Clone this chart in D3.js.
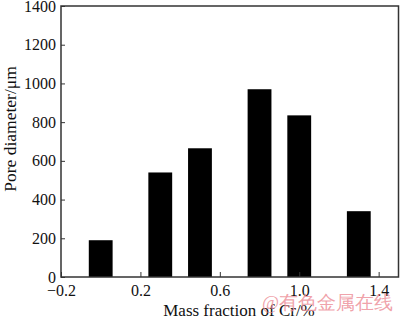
<!DOCTYPE html>
<html>
<head>
<meta charset="utf-8">
<script src="https://cdn.jsdelivr.net/npm/d3@7"></script>
<style>
  body { margin: 0; background: #fff; }
  svg { display: block; }
  text { font-family: "Liberation Serif", "Times New Roman", serif; }
</style>
</head>
<body>
<div id="chart"></div>
<script>
(function () {
    // Cr content (mass fraction, %) and measured pore diameter (um)
    var crFraction = [0, 0.3, 0.5, 0.8, 1.0, 1.3];
    var poreDiameter = [190, 540, 665, 970, 835, 340];
    var xTicks = [-0.2, 0.2, 0.6, 1.0, 1.4];
    var yTicks = [0, 200, 400, 600, 800, 1000, 1200, 1400];

    var width = 400, height = 319;
    var margin = {top: 6, right: 1.5, bottom: 42, left: 61};
    var barWidth = 0.12;

    var x = d3.scaleLinear().domain([-0.2, 1.5]).range([margin.left, width - margin.right]);
    var y = d3.scaleLinear().domain([0, 1400]).range([height - margin.bottom, margin.top]);

    var svg = d3.select('#chart')
        .append('svg')
        .attr('width', width)
        .attr('height', height);

    var data = crFraction.map((c, i) => ({x: c, v: poreDiameter[i]}));

    svg.selectAll('rect.bar')
        .data(data)
        .join('rect')
        .attr('class', 'bar')
        .attr('x', d => x(d.x - barWidth / 2))
        .attr('width', d => x(d.x + barWidth / 2) - x(d.x - barWidth / 2))
        .attr('y', d => y(d.v))
        .attr('height', d => y(0) - y(d.v))
        .attr('fill', '#000');

    // bottom axis, ticks pointing in
    var xAxis = svg.append('g')
        .attr('transform', `translate(0,${y(0)})`)
        .call(d3.axisBottom(x).tickValues(xTicks).tickSizeInner(-5).tickSizeOuter(0)
            .tickPadding(8).tickFormat(d => d3.format('.1f')(d).replace('-', '\u2212')));

    var yAxis = svg.append('g')
        .attr('transform', `translate(${x(-0.2)},0)`)
        .call(d3.axisLeft(y).tickValues(yTicks).tickSizeInner(-4).tickSizeOuter(0)
            .tickPadding(5).tickFormat(d3.format('d')));

    [xAxis, yAxis].forEach(function (g) {
        g.select('.domain').remove();
        g.selectAll('line').attr('stroke', '#333').attr('stroke-width', 1);
        g.selectAll('text')
            .attr('font-family', '"Liberation Serif", serif')
            .attr('font-size', 16)
            .attr('fill', '#111');
    });

    // frame
    svg.append('rect')
        .attr('x', x(-0.2))
        .attr('y', y(1400))
        .attr('width', x(1.5) - x(-0.2))
        .attr('height', y(0) - y(1400))
        .attr('fill', 'none')
        .attr('stroke', '#333')
        .attr('stroke-width', 1.5);

    svg.append('text')
        .attr('x', 239)
        .attr('y', 316)
        .attr('text-anchor', 'middle')
        .attr('font-size', 17)
        .attr('fill', '#111')
        .text('Mass fraction of Cr/%');

    svg.append('text')
        .attr('transform', `translate(16,129) rotate(-90)`)
        .attr('text-anchor', 'middle')
        .attr('font-size', 17.5)
        .attr('fill', '#111')
        .text('Pore diameter/\u03bcm');

    // watermark
    svg.append('text')
        .attr('x', 262)
        .attr('y', 309)
        .attr('font-family', '"Noto Sans CJK SC", sans-serif')
        .attr('font-size', 18.5)
        .attr('fill', '#ec8a94')
        .attr('fill-opacity', 0.8)
        .text('@有色金属在线');
}());
</script>
</body>
</html>
